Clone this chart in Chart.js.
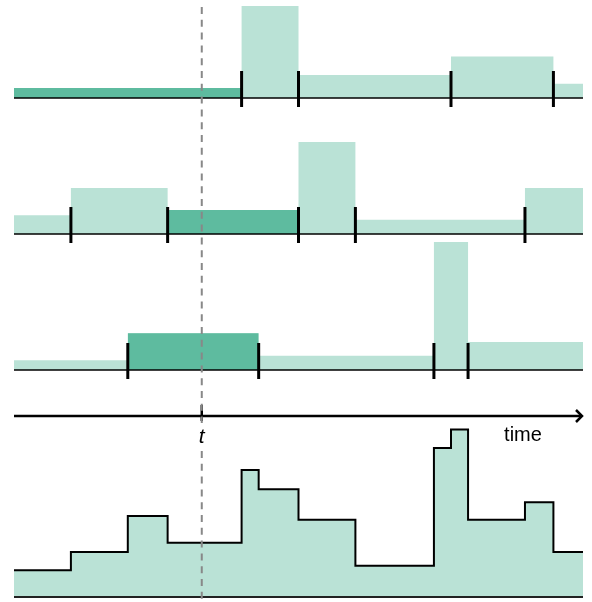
<!DOCTYPE html>
<html>
<head>
<meta charset="utf-8">
<script src="https://cdn.jsdelivr.net/npm/chart.js@4.4.1/dist/chart.umd.min.js"></script>
<style>
  html, body { margin: 0; padding: 0; background: #fff; }
  #wrap { position: relative; width: 592px; height: 602px; }
  #wrap canvas { position: absolute; left: 0; top: 0; }
</style>
</head>
<body>
<div id="wrap">
  <canvas id="row1" width="592" height="602"></canvas>
  <canvas id="row2" width="592" height="602"></canvas>
  <canvas id="row3" width="592" height="602"></canvas>
  <canvas id="total" width="592" height="602"></canvas>
</div>
<script>
// --- datos: tiempos de cambio y valores de cada fila ---
const timeMax = 100;
const tNow = 33;

const row1Times  = [0, 40, 50, 76.8, 94.8, 100];
const row1Values = [1.1, 10, 2.5, 4.5, 1.55];
const row1Active = 0;

const row2Times  = [0, 10, 27, 50, 60, 89.8, 100];
const row2Values = [2.05, 5, 2.6, 10, 1.55, 5];
const row2Active = 2;

const row3Times  = [0, 20, 43, 73.8, 79.8, 100];
const row3Values = [1.05, 4, 1.55, 13.9, 3.05];
const row3Active = 1;

const totalTimes  = [0, 10, 20, 27, 40, 43, 50, 60, 73.8, 76.8, 79.8, 89.8, 94.8, 100];
const totalValues = [2.9, 4.9, 8.8, 5.9, 13.8, 11.7, 8.4, 3.4, 16.2, 18.2, 8.4, 10.3, 4.9];

// colores
const LIGHT = '#bae2d6';
const DARK = '#5ebb9f';

// layout
const UNIT = 9.2;   // px por unidad de valor
const H = 602;

function stepPoints(times, values) {
  const pts = values.map((v, i) => ({ x: times[i], y: v }));
  pts.push({ x: times[times.length - 1], y: values[values.length - 1] });
  return pts;
}

function padFor(baseline, yMax) {
  return { top: baseline - yMax * UNIT, bottom: H - baseline, left: 14, right: 9 };
}

// baseline + marcas de cambio
const rowMarks = {
  id: 'rowMarks',
  afterDatasetsDraw(chart, args, opts) {
    const { ctx, scales: { x, y } } = chart;
    const y0 = y.getPixelForValue(0);
    ctx.save();
    ctx.strokeStyle = '#000';
    ctx.lineWidth = 1.5;
    ctx.beginPath();
    ctx.moveTo(x.left, y0);
    ctx.lineTo(x.right, y0);
    ctx.stroke();
    ctx.lineWidth = 3;
    (opts.ticks || []).forEach(t => {
      const px = x.getPixelForValue(t);
      ctx.beginPath();
      ctx.moveTo(px, y0 - 27);
      ctx.lineTo(px, y0 + 9);
      ctx.stroke();
    });
    ctx.restore();
  }
};

function rowChart(id, times, values, active, baseline, yMax) {
  new Chart(document.getElementById(id), {
    type: 'line',
    data: {
      datasets: [
        {
          data: [{ x: times[active], y: values[active] }, { x: times[active + 1], y: values[active] }],
          stepped: true, fill: 'origin', backgroundColor: DARK, borderWidth: 0, pointRadius: 0
        },
        {
          data: stepPoints(times, values),
          stepped: true, fill: 'origin', backgroundColor: LIGHT, borderWidth: 0, pointRadius: 0
        }
      ]
    },
    options: {
      responsive: false,
      animation: false,
      layout: { padding: padFor(baseline, yMax) },
      scales: {
        x: { type: 'linear', min: 0, max: timeMax, display: false },
        y: { min: 0, max: yMax, display: false }
      },
      plugins: {
        legend: { display: false },
        tooltip: { enabled: false },
        rowMarks: { ticks: times.slice(1, -1) }
      }
    },
    plugins: [rowMarks]
  });
}

rowChart('row1', row1Times, row1Values, row1Active, 98, 10);
rowChart('row2', row2Times, row2Values, row2Active, 234, 10);
rowChart('row3', row3Times, row3Values, row3Active, 370, 14);

// eje de tiempo, etiquetas y línea discontinua en t
const timeAxis = {
  id: 'timeAxis',
  afterDatasetsDraw(chart) {
    const { ctx, scales: { x, y } } = chart;
    const y0 = y.getPixelForValue(0);
    const xt = x.getPixelForValue(tNow);
    ctx.save();
    // base del total
    ctx.strokeStyle = '#222';
    ctx.lineWidth = 2;
    ctx.beginPath();
    ctx.moveTo(x.left, y0);
    ctx.lineTo(x.right, y0);
    ctx.stroke();

    // flecha del tiempo
    const ay = 416;
    const tip = x.right - 1;
    ctx.strokeStyle = '#000';
    ctx.lineWidth = 2.5;
    ctx.beginPath();
    ctx.moveTo(x.left, ay);
    ctx.lineTo(tip, ay);
    ctx.stroke();
    ctx.lineJoin = 'miter';
    ctx.beginPath();
    ctx.moveTo(tip - 6, ay - 6);
    ctx.lineTo(tip, ay);
    ctx.lineTo(tip - 6, ay + 6);
    ctx.stroke();

    // marca en t
    ctx.beginPath();
    ctx.moveTo(xt, ay - 11);
    ctx.lineTo(xt, ay + 5);
    ctx.stroke();

    ctx.fillStyle = '#000';
    ctx.textAlign = 'center';
    ctx.textBaseline = 'alphabetic';
    ctx.font = 'italic 21px "Liberation Sans", Arial, sans-serif';
    ctx.fillText('t', xt, 443);
    ctx.font = '20px "Liberation Sans", Arial, sans-serif';
    ctx.fillText('time', 523, 441);

    // línea discontinua (con hueco para la etiqueta t)
    ctx.strokeStyle = '#888';
    ctx.lineWidth = 2;
    ctx.setLineDash([7, 5.8]);
    ctx.beginPath();
    ctx.moveTo(xt, 7);
    ctx.lineTo(xt, 423);
    ctx.stroke();
    ctx.beginPath();
    ctx.moveTo(xt, 451);
    ctx.lineTo(xt, H);
    ctx.stroke();
    ctx.restore();
  }
};

new Chart(document.getElementById('total'), {
  type: 'line',
  data: {
    datasets: [{
      data: stepPoints(totalTimes, totalValues),
      stepped: true,
      fill: 'origin',
      backgroundColor: LIGHT,
      borderColor: '#000',
      borderWidth: 2,
      pointRadius: 0
    }]
  },
  options: {
    responsive: false,
    animation: false,
    layout: { padding: padFor(597, 18.5) },
    scales: {
      x: { type: 'linear', min: 0, max: timeMax, display: false },
      y: { min: 0, max: 18.5, display: false }
    },
    plugins: {
      legend: { display: false },
      tooltip: { enabled: false }
    }
  },
  plugins: [timeAxis]
});
</script>
</body>
</html>
